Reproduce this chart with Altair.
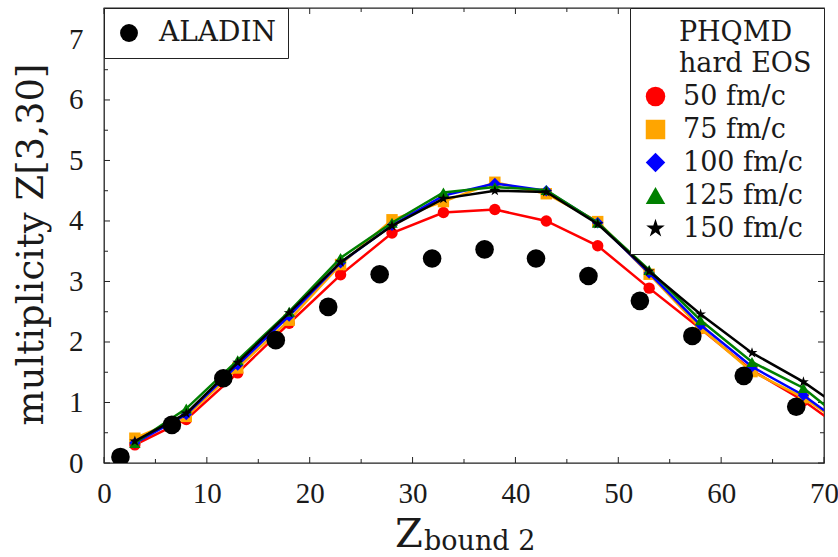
import altair as alt
import pandas as pd

# ---------------- data ----------------
phqmd_z = [3, 8, 13, 18, 23, 28, 33, 38, 43, 48, 53, 58, 63, 68, 73]
phqmd_50 = [0.30, 0.72, 1.49, 2.31, 3.11, 3.80, 4.14, 4.19, 4.00, 3.59, 2.89, 2.22, 1.53, 1.03, 0.42]
phqmd_75 = [0.41, 0.77, 1.57, 2.36, 3.28, 4.02, 4.32, 4.64, 4.45, 3.99, 3.12, 2.23, 1.51, 1.08, 0.50]
phqmd_100 = [0.33, 0.80, 1.62, 2.43, 3.31, 3.93, 4.42, 4.62, 4.50, 3.97, 3.14, 2.28, 1.59, 1.12, 0.50]
phqmd_125 = [0.33, 0.90, 1.70, 2.50, 3.39, 3.97, 4.47, 4.56, 4.51, 3.97, 3.19, 2.36, 1.67, 1.24, 0.55]
phqmd_150 = [0.36, 0.82, 1.66, 2.48, 3.32, 3.92, 4.37, 4.50, 4.48, 3.95, 3.17, 2.46, 1.82, 1.34, 0.75]

aladin_z = [1.6, 6.6, 11.6, 16.7, 21.8, 26.8, 31.9, 37.0, 42.0, 47.1, 52.1, 57.2, 62.2, 67.3]
aladin_m = [0.10, 0.63, 1.40, 2.03, 2.58, 3.12, 3.38, 3.53, 3.38, 3.09, 2.68, 2.10, 1.44, 0.93]

series_names = ["50 fm/c", "75 fm/c", "100 fm/c", "125 fm/c", "150 fm/c"]
series_values = [phqmd_50, phqmd_75, phqmd_100, phqmd_125, phqmd_150]
series_colors = ["#ff0000", "#ffa500", "#0000ff", "#008000", "#000000"]
STAR = ("M0,-1L0.2245,-0.309L0.951,-0.309L0.363,0.118L0.588,0.809L0,0.382"
        "L-0.588,0.809L-0.363,0.118L-0.951,-0.309L-0.2245,-0.309Z")
series_shapes = ["circle", "square", "diamond", "triangle-up", STAR]

aladin_name = ["ALADIN"]
# leading zero-width char keeps the indent spaces from being trimmed
INDENT = "\u200b\u2003\u2009\u2006"
legend_title = [INDENT + "PHQMD", INDENT + "hard EOS"]

x_major = [0, 10, 20, 30, 40, 50, 60, 70]
x_minor = [5, 15, 25, 35, 45, 55, 65]
y_major = [0, 1, 2, 3, 4, 5, 6, 7]
y_minor = [0.5, 1.5, 2.5, 3.5, 4.5, 5.5, 6.5]

y_title = "multiplicity Z[3,30]"
x_title_main = ["Z"]
x_title_sub = ["bound 2"]

# ---------------- chart ----------------
TICK_FONT = "Liberation Serif"
FONT = "DejaVu Serif"
INK = "#1a1a1a"
W, H = 720, 455

rows = []
for name, vals in zip(series_names, series_values):
    for z, m in zip(phqmd_z, vals):
        rows.append({"z": z, "m": m, "series": name})
phqmd = pd.DataFrame(rows)
aladin = pd.DataFrame({"z": aladin_z, "m": aladin_m, "src": aladin_name * len(aladin_z)})

xs = alt.Scale(domain=[0, 70], nice=False, zero=False)
ys = alt.Scale(domain=[0, 7.52], nice=False, zero=False)

x_axis = alt.Axis(values=x_major, ticks=False, domain=False, grid=False, title=None,
                  labelFont=TICK_FONT, labelFontSize=29, labelColor=INK, labelPadding=39,
                  labelBaseline="alphabetic", labelFlush=False, labelOverlap=False)
y_axis = alt.Axis(values=y_major, ticks=False, domain=False, grid=False, title=y_title,
                  titleFont=FONT, titleFontSize=37, titleFontWeight="normal", titleColor=INK,
                  titleX=-62, titleY=236, titleAngle=270, titleBaseline="alphabetic",
                  titleAlign="center",
                  labelFont=TICK_FONT, labelFontSize=29, labelColor=INK, labelPadding=21,
                  labelBaseline="middle", labelFlush=False, labelOverlap=False)

X = alt.X("z:Q", scale=xs, axis=x_axis)
Y = alt.Y("m:Q", scale=ys, axis=y_axis)

phqmd_legend = alt.Legend(
    title=legend_title, orient="top-right", offset=0, padding=12,
    strokeColor="#222", fillColor="white",
    titleFont=FONT, titleFontSize=27, titleFontWeight="normal", titleColor=INK,
    titleLineHeight=31, titlePadding=5, titleAnchor="start", titleAlign="left",
    labelFont=FONT, labelFontSize=27, labelFontWeight="normal", labelColor=INK,
    symbolSize=380, symbolStrokeWidth=0, labelOffset=14, rowPadding=5,
)
aladin_legend = alt.Legend(
    title=None, orient="top-left", offset=0, padding=11,
    strokeColor="#222", fillColor="white",
    labelFont=FONT, labelFontSize=28, labelFontWeight="normal", labelColor=INK,
    symbolSize=320, symbolStrokeWidth=0, labelOffset=16,
)

color_scale = alt.Scale(domain=series_names, range=series_colors)
shape_scale = alt.Scale(domain=series_names, range=series_shapes)

inner = []
for name, color in zip(series_names, series_colors):
    sub = phqmd[phqmd["series"] == name]
    inner.append(
        alt.Chart(sub).mark_line(strokeWidth=2.5, clip=True).encode(
            x=X, y=Y, color=alt.value(color))
    )
    inner.append(
        alt.Chart(sub).mark_point(filled=True, size=130, opacity=1, clip=True).encode(
            x=X, y=Y,
            color=alt.Color("series:N", scale=color_scale, legend=phqmd_legend),
            shape=alt.Shape("series:N", scale=shape_scale, legend=phqmd_legend),
        )
    )
phqmd_layer = alt.layer(*inner)

aladin_layer = alt.Chart(aladin).mark_point(filled=True, size=346, opacity=1, clip=True).encode(
    x=X, y=Y,
    color=alt.Color("src:N", scale=alt.Scale(domain=aladin_name, range=["#000000"]), legend=aladin_legend),
    shape=alt.Shape("src:N", scale=alt.Scale(domain=aladin_name, range=["circle"]), legend=aladin_legend),
)


def xticks(vals, length):
    df = pd.DataFrame({"z": vals})
    bottom = alt.Chart(df).mark_rule(color="#222", strokeWidth=1).encode(
        x=X, y=alt.value(H), y2=alt.value(H - length))
    top = alt.Chart(df).mark_rule(color="#222", strokeWidth=1).encode(
        x=X, y=alt.value(0), y2=alt.value(length))
    return [bottom, top]


def yticks(vals, length):
    df = pd.DataFrame({"m": vals})
    left = alt.Chart(df).mark_rule(color="#222", strokeWidth=1).encode(
        y=Y, x=alt.value(0), x2=alt.value(length))
    right = alt.Chart(df).mark_rule(color="#222", strokeWidth=1).encode(
        y=Y, x=alt.value(W), x2=alt.value(W - length))
    return [left, right]


tick_layers = xticks(x_major, 6) + xticks(x_minor, 4) + yticks(y_major, 6) + yticks(y_minor, 4)

xt_main = alt.Chart(pd.DataFrame({"t": x_title_main})).mark_text(
    font=FONT, fontSize=40, color=INK, align="left", baseline="alphabetic"
).encode(text="t:N", x=alt.value(291), y=alt.value(539))
xt_sub = alt.Chart(pd.DataFrame({"t": x_title_sub})).mark_text(
    font=FONT, fontSize=27, color=INK, align="left", baseline="alphabetic"
).encode(text="t:N", x=alt.value(320), y=alt.value(542))

chart = alt.layer(
    *tick_layers, phqmd_layer, aladin_layer, xt_main, xt_sub
).resolve_scale(
    color="independent", shape="independent"
).properties(
    width=W, height=H, autosize="none",
    padding={"left": 104, "top": 8, "right": 14, "bottom": 94},
    background="white",
).configure_view(stroke="#222", strokeWidth=1.3)

chart.save("out.html", embed_options={"renderer": "svg", "actions": False})
